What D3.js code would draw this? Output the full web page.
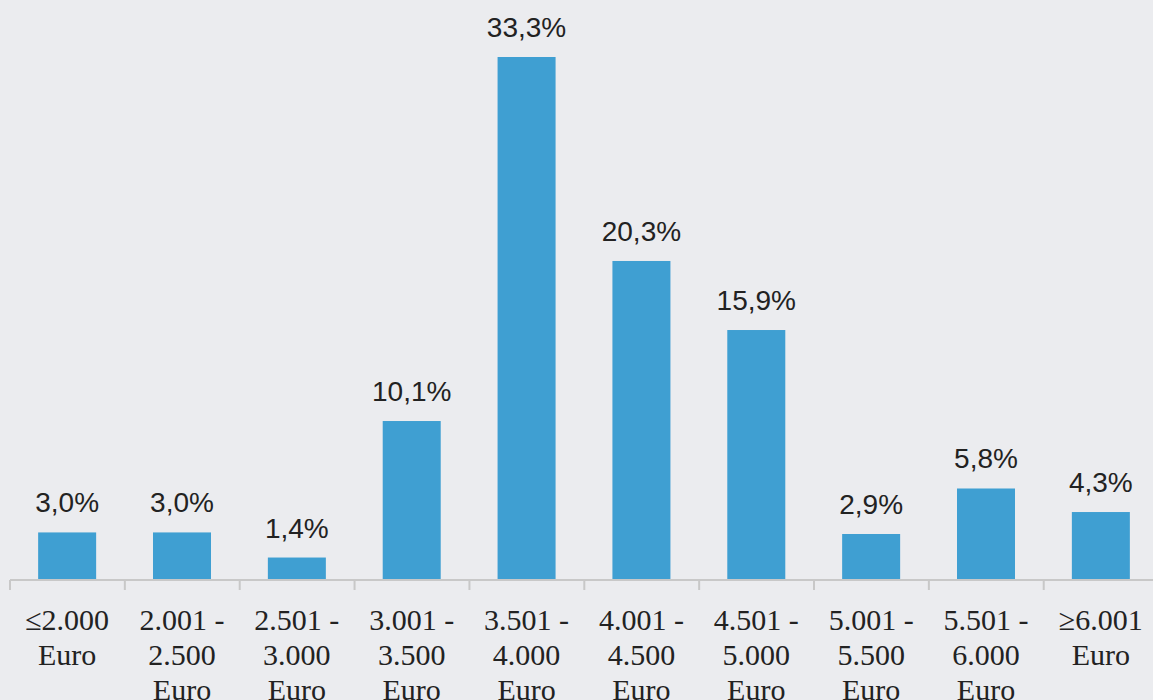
<!DOCTYPE html>
<html>
<head>
<meta charset="utf-8">
<script src="https://cdn.jsdelivr.net/npm/d3@7"></script>
<style>
  html, body { margin: 0; padding: 0; background: #ebecef; }
  svg { display: block; }
</style>
</head>
<body>
<div id="chart"></div>
<script>
const categories = [
  ["≤2.000", "Euro"],
  ["2.001 -", "2.500", "Euro"],
  ["2.501 -", "3.000", "Euro"],
  ["3.001 -", "3.500", "Euro"],
  ["3.501 -", "4.000", "Euro"],
  ["4.001 -", "4.500", "Euro"],
  ["4.501 -", "5.000", "Euro"],
  ["5.001 -", "5.500", "Euro"],
  ["5.501 -", "6.000", "Euro"],
  ["≥6.001", "Euro"]
];
const values = [3.0, 3.0, 1.4, 10.1, 33.3, 20.3, 15.9, 2.9, 5.8, 4.3];
const valueLabels = ["3,0%", "3,0%", "1,4%", "10,1%", "33,3%", "20,3%", "15,9%", "2,9%", "5,8%", "4,3%"];

const width = 1153, height = 700;
const svg = d3.select("#chart").append("svg")
  .attr("width", width)
  .attr("height", height);

svg.append("rect").attr("width", width).attr("height", height).attr("fill", "#ebecef");

const idx = values.map((d, i) => i);

const x = d3.scaleBand()
  .domain(idx)
  .range([10, 1158])
  .paddingInner(0.495)
  .paddingOuter(0.245);

const y = d3.scaleLinear()
  .domain([0, 33.3])
  .range([579.5, 57]);

// bars
svg.selectAll("rect.bar").data(values).enter().append("rect")
  .attr("class", "bar")
  .attr("x", (d, i) => x(i))
  .attr("y", d => y(d))
  .attr("width", x.bandwidth())
  .attr("height", d => y(0) - y(d))
  .attr("fill", "#3f9fd2");

// value labels
svg.selectAll("text.val").data(values).enter().append("text")
  .attr("class", "val")
  .attr("x", (d, i) => x(i) + x.bandwidth() / 2)
  .attr("y", d => y(d) - 20)
  .attr("text-anchor", "middle")
  .attr("font-family", "'Liberation Sans Narrow', 'Liberation Sans', sans-serif")
  .attr("font-size", 28)
  .attr("fill", "#222")
  .text((d, i) => valueLabels[i]);

// axis
const step = x.step();
const axisG = svg.append("g");
axisG.append("line")
  .attr("x1", 10).attr("x2", 1153)
  .attr("y1", 580).attr("y2", 580)
  .attr("stroke", "#c8c8c8").attr("stroke-width", 2);

const bounds = d3.range(values.length + 1).map(i => 10 + i * step);
axisG.selectAll("line.tick").data(bounds).enter().append("line")
  .attr("class", "tick")
  .attr("x1", d => d).attr("x2", d => d)
  .attr("y1", 580).attr("y2", 590)
  .attr("stroke", "#c8c8c8").attr("stroke-width", 2);

// category labels
const lab = svg.selectAll("text.cat").data(categories).enter().append("text")
  .attr("class", "cat")
  .attr("x", (d, i) => x(i) + x.bandwidth() / 2)
  .attr("y", 630)
  .attr("text-anchor", "middle")
  .attr("font-family", "'Liberation Serif', 'Times New Roman', serif")
  .attr("font-size", 30)
  .attr("fill", "#222");

lab.selectAll("tspan").data(d => d).enter().append("tspan")
  .attr("x", function () { return d3.select(this.parentNode).attr("x"); })
  .attr("dy", (d, j) => j === 0 ? 0 : 35)
  .text(d => d);
</script>
</body>
</html>
